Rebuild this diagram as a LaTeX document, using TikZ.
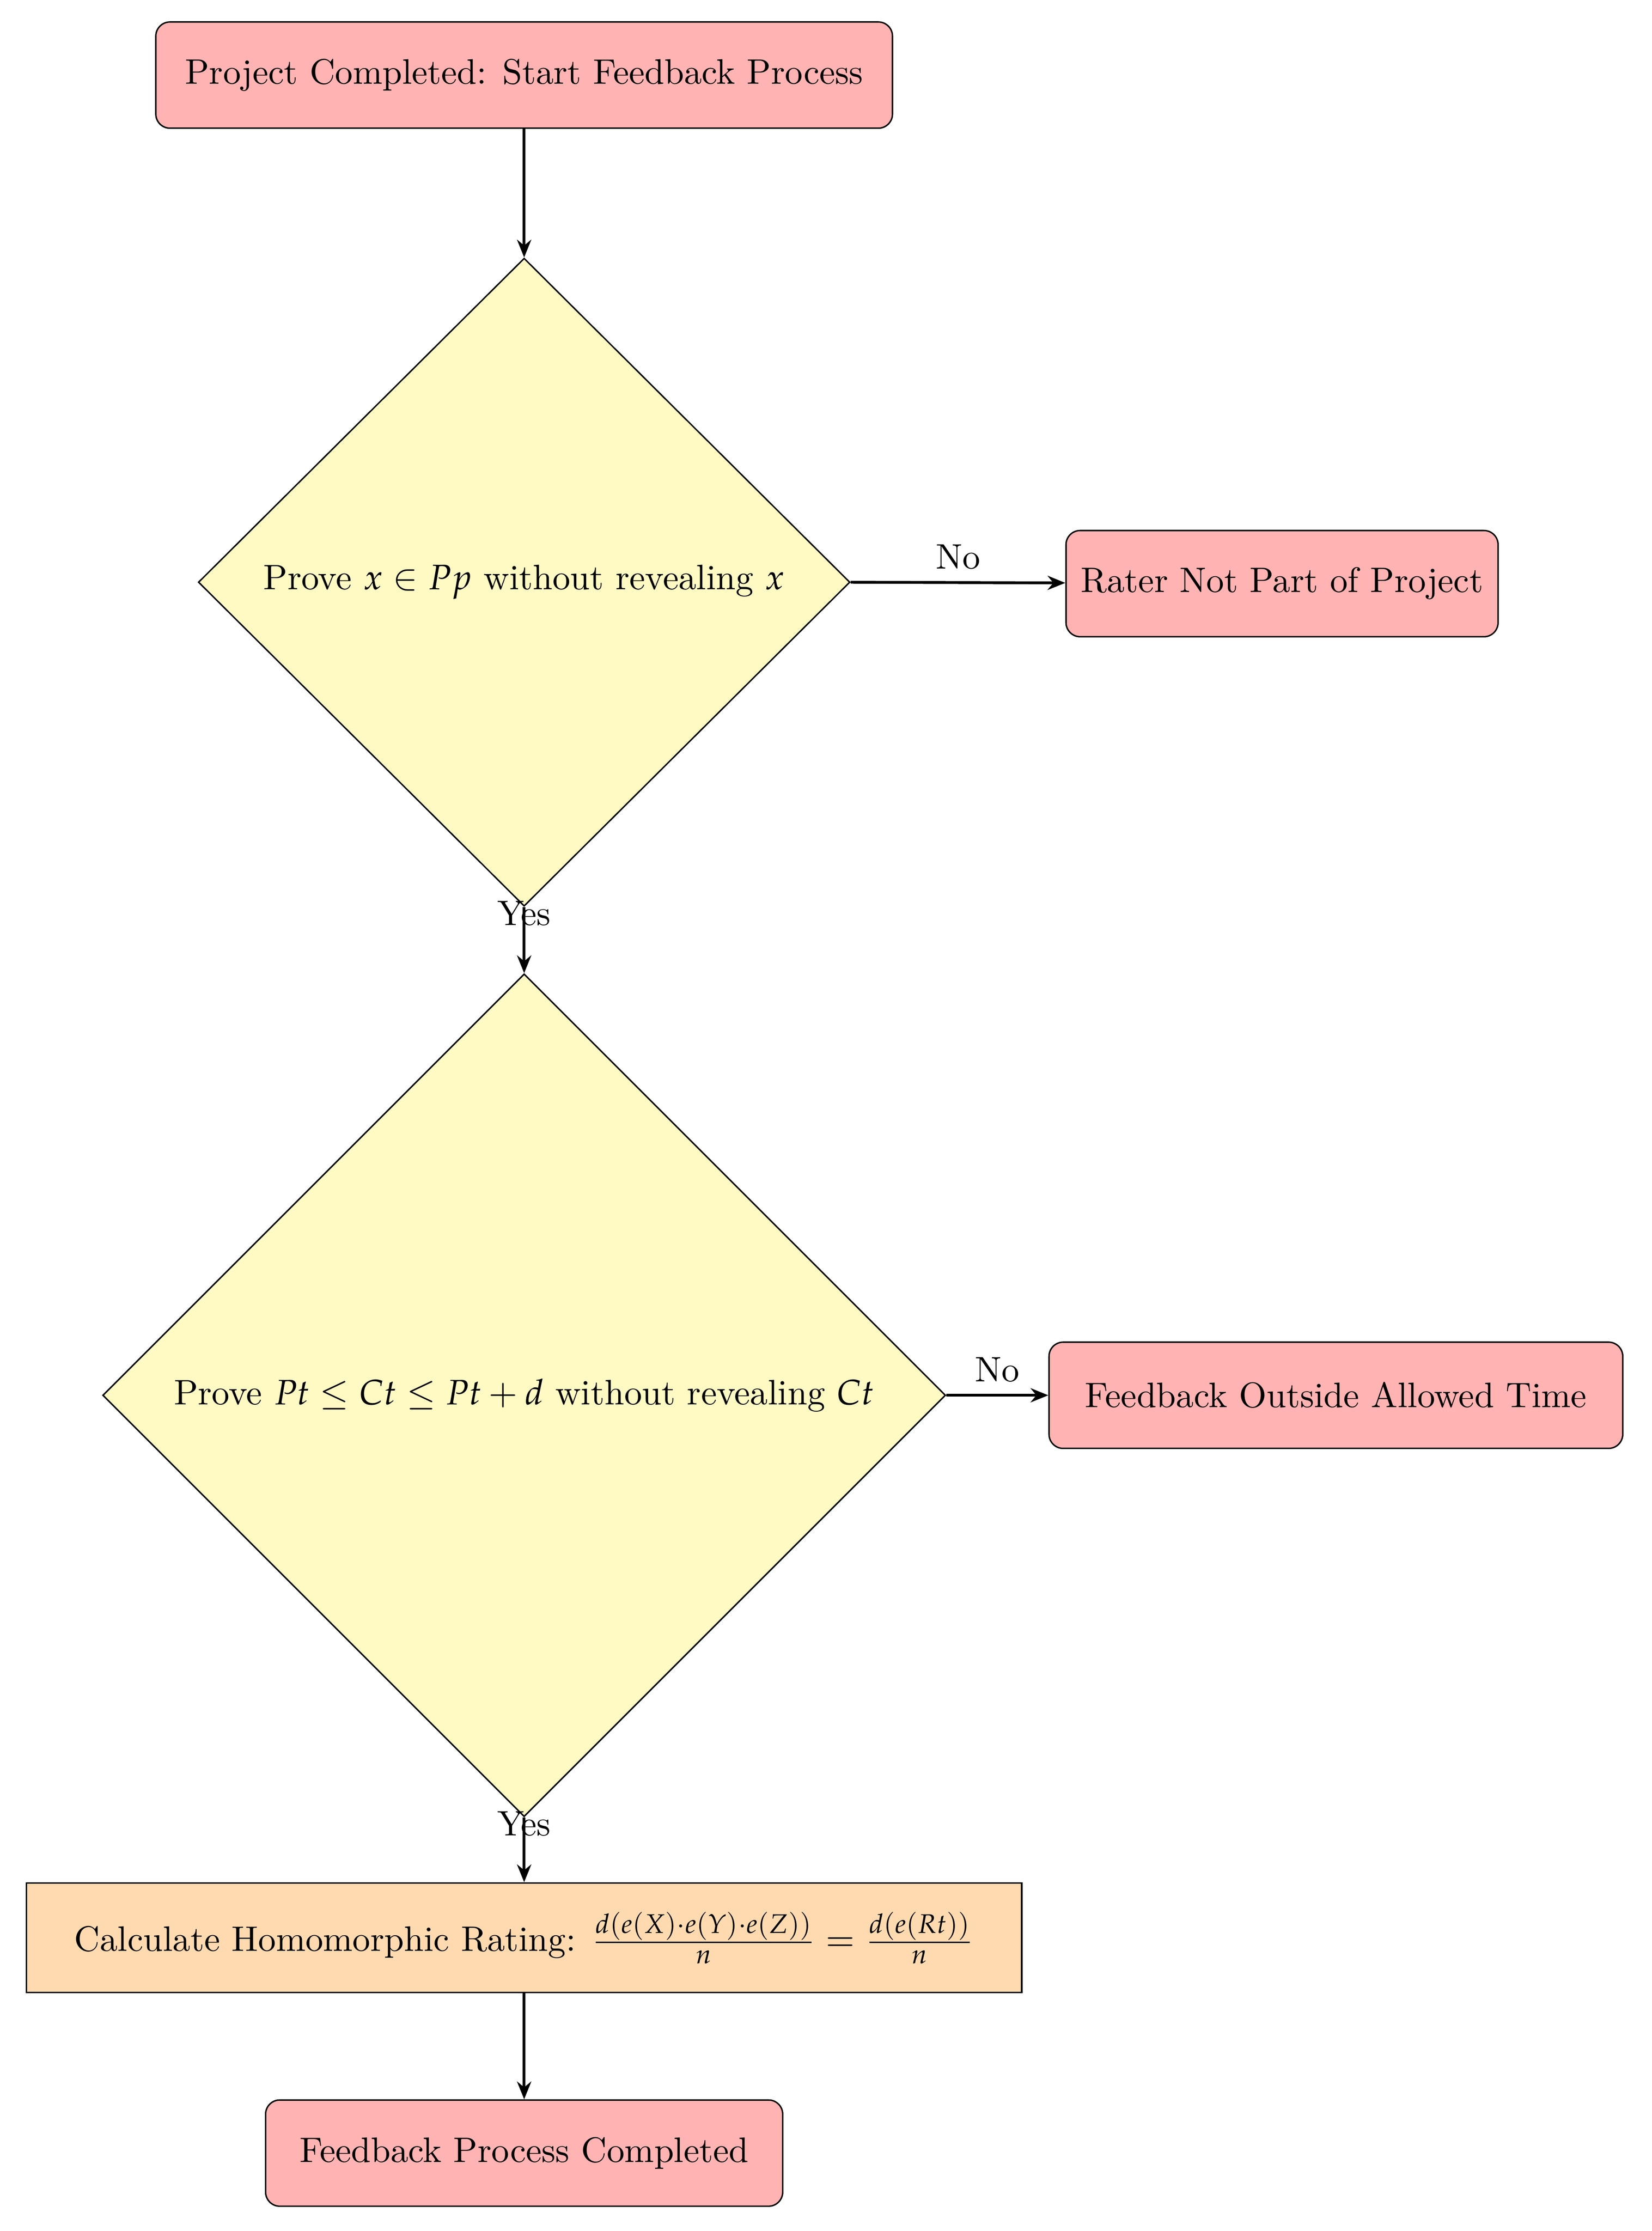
\documentclass[tikz,border=0pt]{standalone}
\usepackage{mathpazo}
\usetikzlibrary{shapes.geometric,arrows.meta}
\definecolor{pinkbox}{HTML}{FFB3B3}
\definecolor{yelbox}{HTML}{FFF9C4}
\definecolor{orabox}{HTML}{FFDAB0}
\begin{document}
\begin{tikzpicture}[x=0.4pt,y=-0.4pt,
  term/.style={draw,fill=pinkbox,rounded corners=4pt,minimum height=30pt,inner sep=0pt},
  dia/.style={draw,diamond,fill=yelbox,inner sep=0pt,minimum width=#1},
  arr/.style={-{Stealth[length=5pt,width=4pt]},thick},
  lbl/.style={font=\normalsize}]
\useasboundingbox (0,0) rectangle (1166,1575);
\node[term,minimum width=208pt] (start) at (370,53) {Project Completed: Start Feedback Process};
\node[dia,minimum height=183pt,minimum width=184pt] (d1) at (370,411) {};
\node (t1) at (370,411) {Prove $x\in Pp$ without revealing $x$};
\node[term,minimum width=122pt] (rater) at (905,412) {Rater Not Part of Project};
\node[dia,minimum height=238pt,minimum width=238pt] (d2) at (370,985) {};
\node (t2) at (370,985) {Prove $Pt\le Ct\le Pt+d$ without revealing $Ct$};
\node[term,minimum width=162pt] (outside) at (943,985) {Feedback Outside Allowed Time};
\node[draw,fill=orabox,minimum width=281pt,minimum height=31pt,inner sep=0pt] (calc) at (370,1368) {Calculate Homomorphic Rating: $\frac{d(e(X)\cdot e(Y)\cdot e(Z))}{n}=\frac{d(e(Rt))}{n}$};
\node[term,minimum width=146pt] (final) at (370,1520) {Feedback Process Completed};
\draw[arr] (start) -- (d1.north);
\draw[arr] (d1.east) -- node[above]{No} (rater);
\draw[arr] (d1.south) -- node[pos=0.1,fill=none]{Yes} (d2.north);
\draw[arr] (d2.east) -- node[above]{No} (outside);
\draw[arr] (d2.south) -- node[pos=0.1]{Yes} (calc);
\draw[arr] (calc) -- (final);
\end{tikzpicture}
\end{document}
